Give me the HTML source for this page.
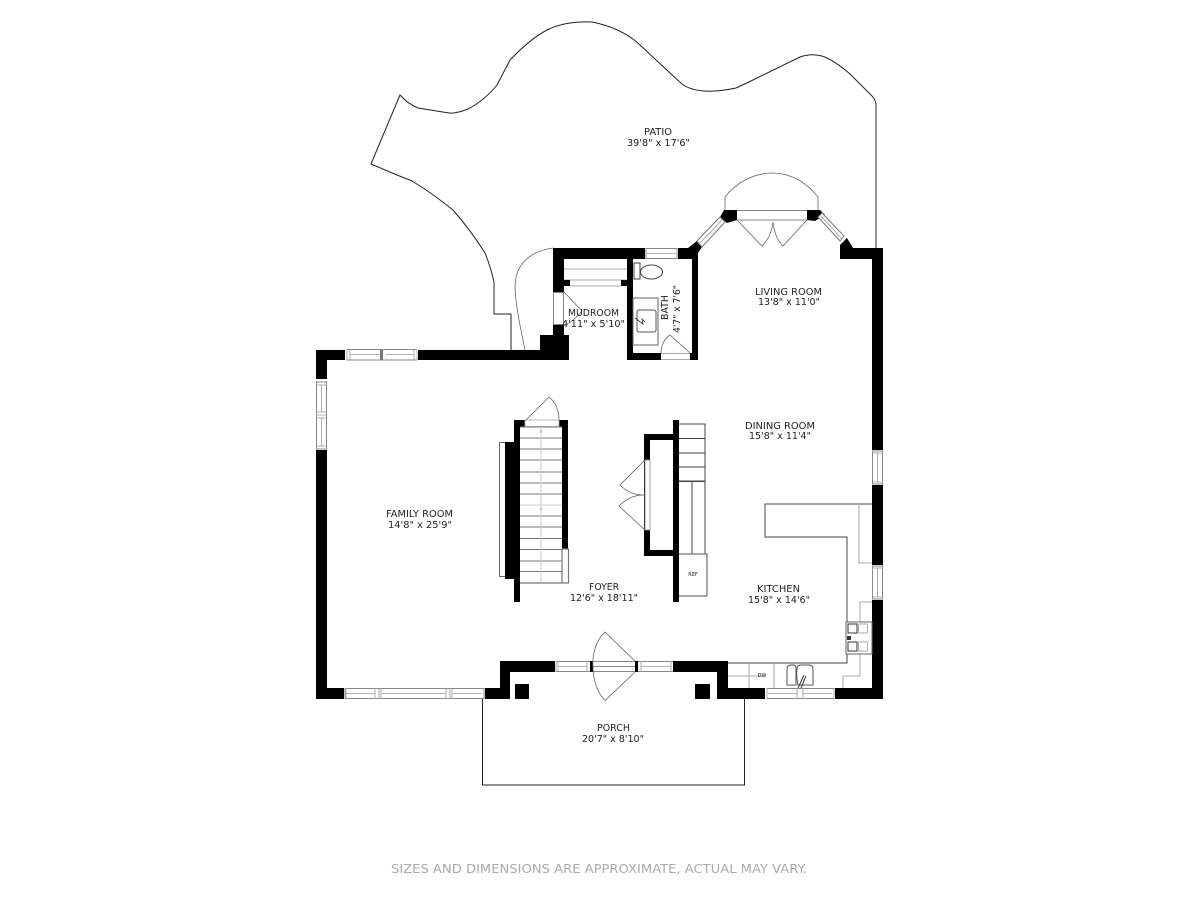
<!DOCTYPE html>
<html><head><meta charset="utf-8"><style>
html,body{margin:0;padding:0;background:#fff}
svg{display:block;filter:blur(.3px)}
text{font-family:"DejaVu Sans","Liberation Sans",sans-serif;font-size:10px;fill:#222}
.k{fill:#000;stroke:none}
.w{fill:#fff;stroke:#888;stroke-width:1}
.l{fill:none;stroke:#999;stroke-width:.8}
.d{fill:none;stroke:#666;stroke-width:.8}
.c{fill:none;stroke:#222;stroke-width:1;stroke-linejoin:round}
.g{fill:none;stroke:#aaa;stroke-width:1}
</style></head><body>
<svg width="1200" height="900" viewBox="0 0 1200 900" xmlns="http://www.w3.org/2000/svg">
<rect width="1200" height="900" fill="#fff"/>
<!-- patio -->
<path class="c" d="M876 248V104Q875 99 872 96L850 74Q834 60 822 56Q811 53 800 57L753 80L736 88Q717 92 704 91Q690 90 682 84L670 73L640 45Q622 28 592 22Q565 21 547 30Q530 39 510 60L497 85Q485 100 468 109Q455 114 449 113L418 108Q408 104 400 95L371 164L397 175L412 181Q432 193 453 210Q472 232 485 253Q491 268 494 282V314H511V350"/>
<path class="d" d="M553 248C540 250 530 254 522 264C515 273 514 285 516 300C518 318 522 335 525 350"/>
<!-- porch -->
<path class="c" d="M482.500 699V785H744.500V699"/>
<!-- main walls -->
<rect class="k" x="316" y="350" width="253" height="10"/>
<rect class="k" x="540" y="335" width="29" height="25"/>
<rect class="k" x="553" y="325" width="11" height="12"/>
<rect class="k" x="553" y="248" width="11" height="44"/>
<rect class="k" x="553" y="248" width="145" height="11"/>
<rect class="k" x="627" y="259" width="6" height="101"/>
<rect class="k" x="692" y="248" width="6" height="112"/>
<rect class="k" x="627" y="353" width="71" height="7"/>
<rect class="k" x="316" y="350" width="11" height="349"/>
<rect class="k" x="316" y="688" width="194" height="11"/>
<rect class="k" x="500" y="661" width="10" height="38"/>
<rect class="k" x="500" y="661" width="228" height="11"/>
<rect class="k" x="717" y="661" width="11" height="38"/>
<rect class="k" x="717" y="688" width="166" height="11"/>
<rect class="k" x="872" y="248" width="11" height="451"/>
<rect class="k" x="840" y="248" width="43" height="11"/>
<polygon class="k" points="847,238 853,248 853,259 840,259 840,245"/>
<polygon class="k" points="688,248 697,241 702,247 698,253 698,259 688,259"/>
<polygon class="k" points="724,210 737,210 737,220 727,223 720,217"/>
<polygon class="k" points="807,210 820,210 825,215 815,221 807,220"/>
<!-- piers -->
<rect class="k" x="515" y="684" width="14" height="15"/>
<rect class="k" x="695" y="684" width="15" height="15"/>
<!-- windows: family top -->
<rect x="345" y="349" width="73" height="11" fill="#fff"/>
<path class="w" d="M347 349.500H417M347 360H417" />
<path class="l" d="M347 350V360M417 350V360M350 354.500H382M386 354.500H414M350 350V360M414 350V360"/>
<rect x="380" y="350" width="3" height="10" fill="#777"/>
<!-- family left windows -->
<rect x="316" y="379" width="11" height="71" fill="#fff"/>
<path class="w" d="M316.500 381V449M326.500 381V449M316 382H327M316 449H327"/>
<path class="l" d="M321.500 385V412M321.500 418V446M316 385H327M316 412H327M316 415H327M316 418H327M316 446H327"/>
<!-- family bottom window -->
<rect x="344" y="688" width="141" height="11" fill="#fff"/>
<path class="w" d="M345 688.500H484M345 698.500H484M345 688V699M484 688V699"/>
<path class="l" d="M346 693.500H375M382 693.500H446M453 693.500H482M346 688V699M375 688V699M379 688V699M381 688V699M446 688V699M450 688V699M452 688V699"/>
<!-- entry -->
<rect x="555" y="661" width="118" height="11" fill="#fff"/>
<path class="w" d="M556 661.500H590M556 671.500H590M593 661.500H635M593 671.500H635M638 661.500H673M638 671.500H673"/>
<path class="l" d="M556 661V672M558 661V672M587 661V672M558 666.500H587M641 666.500H671M641 661V672M671 661V672"/>
<rect x="590" y="661" width="3" height="11" fill="#000"/>
<rect x="635" y="661" width="3" height="11" fill="#000"/>
<path class="d" d="M635 661L605 632C596 640 592 655 593 666C593 680 597 692 605 700.500L635 672"/>
<path class="d" d="M593 666.500H635"/>
<!-- kitchen bottom window -->
<rect x="765" y="688" width="70" height="11" fill="#fff"/>
<path class="w" d="M767 688.500H834M767 698.500H834"/>
<path class="l" d="M767 688V699M834 688V699M768 693.500H797M803 693.500H832M797 688V699M803 688V699"/>
<!-- right windows -->
<rect x="872" y="450" width="11" height="35" fill="#fff"/>
<path class="w" d="M872.500 451V484M882.500 451V484M872 451H883M872 484H883"/>
<path class="l" d="M877.500 453V482M872 453H883M872 482H883"/>
<rect x="872" y="565" width="11" height="35" fill="#fff"/>
<path class="w" d="M872.500 566V599M882.500 566V599M872 566H883M872 599H883"/>
<path class="l" d="M877.500 568V597M872 568H883M872 597H883"/>
<!-- bath window -->
<rect x="645" y="248" width="33" height="11" fill="#fff"/>
<path class="w" d="M646 248.500H677M646 258.500H677M646 248V259M677 248V259"/>
<path class="l" d="M647 253.500H676"/>
<!-- mud window -->
<rect x="553" y="292" width="11" height="33" fill="#fff"/>
<path class="w" d="M553.500 292V325M553 292.500H564M553 324.500H564M563.500 292V325"/>
<!-- bath door opening -->
<rect x="661" y="353" width="29" height="7" fill="#fff"/>
<path class="g" d="M661 353.500H690M661 359.500H690"/>
<path class="d" d="M690 353L670 335C664 339 661 346 661 353"/>
<!-- living bay -->
<rect x="737" y="210" width="70" height="10" fill="#fff"/>
<path class="w" d="M737 210.500H807M737 220H807"/>
<path class="d" d="M725 210V197C735 184 752 173 773 173C792 173 808 184 818 197V210"/>
<path class="d" d="M737 220L762 246C768 240 772 232 773 222C774 232 777 240 783 246L807 220"/>
<polygon fill="#fff" stroke="#777" stroke-width="1" points="697,241 720,217 725,222 702,247"/>
<path class="l" d="M700 243L722 220"/>
<polygon fill="#fff" stroke="#777" stroke-width="1" points="818,217 822,213 844,236 840,241"/>
<path class="l" d="M820 215L842 239"/>
<!-- mudroom shelf -->
<path class="g" d="M564 269H627M564 280H627M570 286H621"/>
<rect class="k" x="564" y="280" width="6" height="6"/>
<rect class="k" x="621" y="280" width="6" height="6"/>
<path class="d" d="M564 292L582 311C578 316 570 324 564 325"/>
<!-- bath fixtures -->
<rect x="634" y="263" width="6" height="16" fill="#fff" stroke="#444" stroke-width="1"/>
<ellipse cx="651.500" cy="272" rx="11" ry="7" fill="#fff" stroke="#444" stroke-width="1"/>
<rect x="633" y="298" width="25" height="47" fill="none" stroke="#666" stroke-width="1"/>
<rect x="637" y="310" width="19" height="22" rx="2" fill="none" stroke="#555" stroke-width="1"/>
<path d="M635 318L643 324L642 319L645 322" fill="none" stroke="#333" stroke-width=".8"/>
<!-- stairs left -->
<rect class="k" x="514" y="420" width="6" height="182"/>
<rect class="k" x="514" y="420" width="11" height="7"/>
<rect class="k" x="559" y="420" width="9" height="7"/>
<rect class="k" x="562" y="420" width="6" height="129"/>
<rect x="499.500" y="442.500" width="7" height="134" fill="#fff" stroke="#666"/>
<path d="M506 442C511 470 511 550 506 579" fill="#000" stroke="#000"/>
<rect x="505" y="442" width="9" height="137" fill="#000"/>
<rect x="525" y="420" width="34" height="6.500" fill="#fff" stroke="#aaa" stroke-width=".8"/>
<path class="d" d="M526 420L549 397C555 402 559 410 559 420"/>
<path fill="none" stroke="#777" stroke-width=".9" d="M520 427H562M520 438H562M520 449H562M520 460H562M520 472H562M520 483H562M520 494H562M520 516H562M520 527H562M520 538.500H562M520 549.500H562M520 561H562M520 571.500H562"/>
<path fill="none" stroke="#ccc" d="M520 505H562M541 427V583"/>
<path fill="none" stroke="#777" stroke-width="1.200" d="M520 583H568.500V549H562V583"/>
<path d="M541 428.500l-2 4h4zM541 506l-2 4h4z" fill="#ccc"/>
<!-- right of foyer block -->
<rect class="k" x="673" y="420" width="6" height="182"/>
<rect class="k" x="644" y="434" width="29" height="6"/>
<rect class="k" x="644" y="434" width="6" height="122"/>
<rect class="k" x="644" y="550" width="30" height="6"/>
<rect x="645" y="460" width="5" height="70" fill="#fff" stroke="#888" stroke-width=".8"/>
<path class="d" d="M645 460L620 485C628 493 636 495 645 495C636 495 628 497 619 506L645 530"/>
<path fill="none" stroke="#444" stroke-width="1" d="M679 424H705V481H679M679 438.500H705M679 453H705M679 467H705M679 481.500H705M692 481V554M705 481V554"/>
<path fill="none" stroke="#555" stroke-width="1" d="M679 554H707V596H679"/>
<text x="693" y="576" text-anchor="middle" style="font-size:5px">REF</text>
<!-- kitchen -->
<path fill="none" stroke="#444" stroke-width="1" d="M872 504H765V537H847V663H728"/>
<path class="g" d="M859 504V563H872M872 602H860V676H843V688M728 676H765M749 663V688M774 663V688"/>
<rect x="846" y="622" width="26" height="32" fill="#fff" stroke="#666" stroke-width="1"/>
<rect x="848" y="624" width="9" height="9" fill="none" stroke="#333"/>
<rect x="848" y="642" width="9" height="9" fill="none" stroke="#333"/>
<rect x="858.500" y="624" width="9" height="9" rx="1" fill="none" stroke="#aaa"/>
<rect x="858.500" y="642" width="9" height="9" rx="1" fill="none" stroke="#aaa"/>
<path d="M847 636h4v4h-4z" fill="#333"/>
<path fill="none" stroke="#555" stroke-width="1" d="M787 685V669Q787 665 791 665H794Q796 665 796 669V685ZM798 685Q796 675 797 669Q797 665 801 665H809Q813 665 813 669V685Z"/>
<path fill="none" stroke="#333" stroke-width="1" d="M798 688L804 675M801 688L806 676"/>
<text x="762" y="677" text-anchor="middle" style="font-size:5px">DW</text>
<!-- labels -->
<text x="644" y="135" textLength="28" lengthAdjust="spacingAndGlyphs">PATIO</text>
<text x="627" y="146" textLength="63" lengthAdjust="spacingAndGlyphs">39'8" x 17'6"</text>
<text x="755" y="295" textLength="67" lengthAdjust="spacingAndGlyphs">LIVING ROOM</text>
<text x="758" y="305" textLength="62" lengthAdjust="spacingAndGlyphs">13'8" x 11'0"</text>
<text x="568" y="316" textLength="51" lengthAdjust="spacingAndGlyphs">MUDROOM</text>
<text x="562" y="327" textLength="63" lengthAdjust="spacingAndGlyphs">4'11" x 5'10"</text>
<text transform="translate(668 320) rotate(-90)" textLength="25" lengthAdjust="spacingAndGlyphs">BATH</text>
<text transform="translate(680 333) rotate(-90)" textLength="48" lengthAdjust="spacingAndGlyphs">4'7" x 7'6"</text>
<text x="745" y="429" textLength="70" lengthAdjust="spacingAndGlyphs">DINING ROOM</text>
<text x="749" y="439" textLength="62" lengthAdjust="spacingAndGlyphs">15'8" x 11'4"</text>
<text x="386" y="517" textLength="67" lengthAdjust="spacingAndGlyphs">FAMILY ROOM</text>
<text x="388" y="528" textLength="64" lengthAdjust="spacingAndGlyphs">14'8" x 25'9"</text>
<text x="589" y="590" textLength="30" lengthAdjust="spacingAndGlyphs">FOYER</text>
<text x="570" y="601" textLength="68" lengthAdjust="spacingAndGlyphs">12'6" x 18'11"</text>
<text x="757" y="592" textLength="43" lengthAdjust="spacingAndGlyphs">KITCHEN</text>
<text x="748" y="603" textLength="62" lengthAdjust="spacingAndGlyphs">15'8" x 14'6"</text>
<text x="597" y="731" textLength="33" lengthAdjust="spacingAndGlyphs">PORCH</text>
<text x="582" y="742" textLength="62" lengthAdjust="spacingAndGlyphs">20'7" x 8'10"</text>
<text x="391" y="873" textLength="416" lengthAdjust="spacingAndGlyphs" style="font-size:12.500px;fill:#aaa">SIZES AND DIMENSIONS ARE APPROXIMATE, ACTUAL MAY VARY.</text>
</svg>
</body></html>
